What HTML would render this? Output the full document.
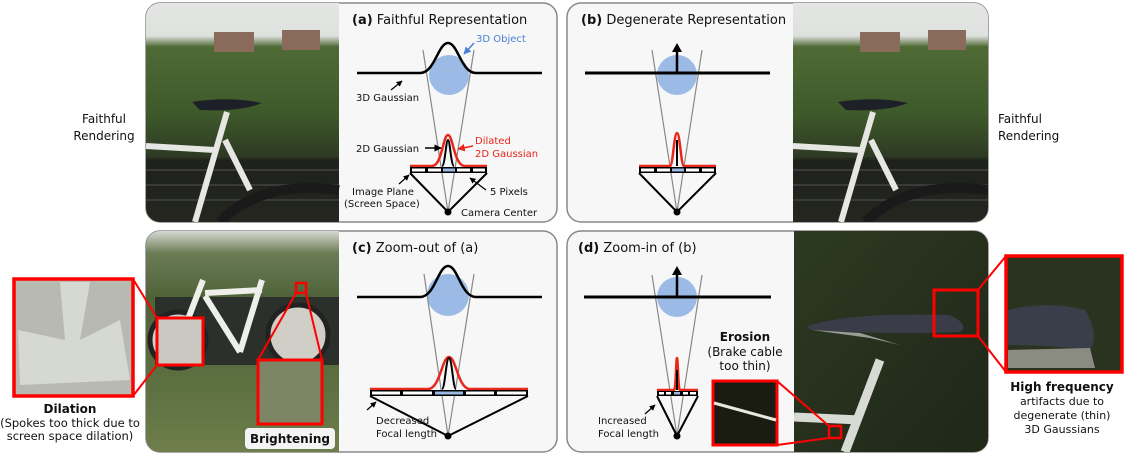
<!DOCTYPE html>
<html><head><meta charset="utf-8"><style>
html,body{margin:0;padding:0;background:#fff;width:1128px;height:456px;overflow:hidden}
svg{display:block;font-family:"DejaVu Sans","Liberation Sans",sans-serif}
</style></head><body>
<svg width="1128" height="456" viewBox="0 0 1128 456" xmlns="http://www.w3.org/2000/svg">
<defs>
<linearGradient id="tree" x1="0" y1="0" x2="0" y2="1">
<stop offset="0" stop-color="#e4e6e4"/><stop offset="0.15" stop-color="#dfe1de"/><stop offset="0.2" stop-color="#4f6a35"/><stop offset="0.5" stop-color="#3e5a2a"/><stop offset="0.7" stop-color="#2e3a24"/><stop offset="0.72" stop-color="#1e211c"/><stop offset="1" stop-color="#24261f"/>
</linearGradient>
<linearGradient id="bl" x1="0" y1="0" x2="0" y2="1">
<stop offset="0" stop-color="#d6d9d2"/><stop offset="0.1" stop-color="#6b7c55"/><stop offset="0.3" stop-color="#4f6339"/><stop offset="0.7" stop-color="#5d7040"/><stop offset="1" stop-color="#6e7e4c"/>
</linearGradient>
<linearGradient id="br" x1="0" y1="0" x2="1" y2="1">
<stop offset="0" stop-color="#2d3a22"/><stop offset="0.5" stop-color="#26301d"/><stop offset="1" stop-color="#1f2718"/>
</linearGradient>
<marker id="ah" viewBox="0 0 10 10" refX="9" refY="5" markerWidth="5" markerHeight="5" orient="auto"><path d="M0 0 L10 5 L0 10Z" fill="#000"/></marker>
<marker id="ahb" viewBox="0 0 10 10" refX="9" refY="5" markerWidth="5" markerHeight="5" orient="auto"><path d="M0 0 L10 5 L0 10Z" fill="#4a7fd4"/></marker>
<marker id="ahr" viewBox="0 0 10 10" refX="9" refY="5" markerWidth="5" markerHeight="5" orient="auto"><path d="M0 0 L10 5 L0 10Z" fill="#e8261a"/></marker>
<clipPath id="c1"><rect x="146" y="3" width="411" height="219" rx="14"/></clipPath>
<clipPath id="c2"><rect x="567" y="3" width="421" height="219" rx="14"/></clipPath>
<clipPath id="c3"><rect x="146" y="231" width="411" height="221" rx="14"/></clipPath>
<clipPath id="c4"><rect x="567" y="231" width="421" height="221" rx="14"/></clipPath>
</defs>

<rect x="146" y="3" width="411" height="219" rx="14" fill="#f7f7f7" stroke="#888" stroke-width="1.5"/>
<rect x="567" y="3" width="421" height="219" rx="14" fill="#f7f7f7" stroke="#888" stroke-width="1.5"/>
<rect x="146" y="231" width="411" height="221" rx="14" fill="#f7f7f7" stroke="#888" stroke-width="1.5"/>
<rect x="567" y="231" width="421" height="221" rx="14" fill="#f7f7f7" stroke="#888" stroke-width="1.5"/>

<g clip-path="url(#c1)">
<rect x="146" y="3" width="193" height="219" fill="url(#tree)"/>
<rect x="214" y="32" width="40" height="20" fill="#8a6a5a"/><rect x="282" y="30" width="38" height="20" fill="#8a6a5a"/>
<g stroke="#3a3a3a" stroke-width="2"><line x1="146" y1="170" x2="339" y2="170"/><line x1="146" y1="185" x2="339" y2="185"/><line x1="146" y1="200" x2="339" y2="200"/></g>
<path d="M192 102 Q230 96 262 103 Q240 112 200 110Z" fill="#1e2028"/>
<g stroke="#e6e6e2" stroke-width="6" fill="none"><line x1="146" y1="146" x2="215" y2="150"/><line x1="227" y1="112" x2="195" y2="222"/><line x1="225" y1="140" x2="250" y2="190"/></g>
<path d="M220 222 Q260 180 339 190" stroke="#1a1a1a" stroke-width="10" fill="none"/>
</g>
<g clip-path="url(#c2)">
<rect x="793" y="3" width="195" height="219" fill="url(#tree)"/>
<rect x="860" y="32" width="40" height="20" fill="#8a6a5a"/><rect x="928" y="30" width="38" height="20" fill="#8a6a5a"/>
<g stroke="#3a3a3a" stroke-width="2"><line x1="793" y1="170" x2="988" y2="170"/><line x1="793" y1="185" x2="988" y2="185"/><line x1="793" y1="200" x2="988" y2="200"/></g>
<path d="M838 102 Q876 96 908 103 Q886 112 846 110Z" fill="#1e2028"/>
<g stroke="#e6e6e2" stroke-width="6" fill="none"><line x1="793" y1="146" x2="861" y2="150"/><line x1="873" y1="112" x2="841" y2="222"/><line x1="871" y1="140" x2="896" y2="190"/></g>
<path d="M866 222 Q906 180 988 190" stroke="#1a1a1a" stroke-width="10" fill="none"/>
</g>
<g clip-path="url(#c3)">
<rect x="146" y="231" width="193" height="221" fill="url(#bl)"/>
<rect x="155" y="297" width="184" height="68" fill="#2c302a"/>
<circle cx="178" cy="340" r="28" fill="#cfcfc8" stroke="#222" stroke-width="5"/><circle cx="298" cy="335" r="30" fill="#cfcfc8" stroke="#222" stroke-width="5"/>
<g stroke="#eeeeea" stroke-width="6" fill="none"><line x1="205" y1="293" x2="262" y2="290"/><line x1="205" y1="296" x2="240" y2="352"/><line x1="262" y1="280" x2="240" y2="352"/><line x1="203" y1="280" x2="180" y2="340"/></g>
</g>
<g clip-path="url(#c4)">
<rect x="794" y="231" width="194" height="221" fill="url(#br)"/>
<path d="M808 326 Q850 312 950 315 Q970 325 960 332 Q900 335 810 330Z" fill="#3a3c48"/>
<path d="M812 330 L860 333 L900 345 L870 338Z" fill="#9a9c96"/>
<g stroke="#d8dad4" stroke-width="9" fill="none"><line x1="880" y1="360" x2="845" y2="452"/><line x1="794" y1="417" x2="860" y2="420"/></g>
</g>

<g font-size="13" fill="#111">
<text x="352" y="24"><tspan font-weight="bold">(a)</tspan> Faithful Representation</text>
<circle cx="449" cy="75" r="20" fill="#9bbbe6"/>
<line x1="448" y1="212" x2="423" y2="50" stroke="#888" stroke-width="1.2"/><line x1="448" y1="212" x2="474" y2="50" stroke="#888" stroke-width="1.2"/>
<path d="M357 73 L420 73 C435 73 438 43 448 43 C458 43 461 73 476 73 L542 73" stroke="#000" stroke-width="2.5" fill="none"/>
<text x="476" y="42" font-size="10" fill="#4a7fd4">3D Object</text>
<line x1="474" y1="43" x2="464" y2="54" stroke="#4a7fd4" stroke-width="1.5" marker-end="url(#ahb)"/>
<text x="356" y="101" font-size="10">3D Gaussian</text>
<line x1="391" y1="90" x2="402" y2="81" stroke="#000" stroke-width="1.2" marker-end="url(#ah)"/>
<path d="M410 166 L432 166 C442 166 443 135 448 135 C453 135 454 166 465 166 L487 166" stroke="#e8261a" stroke-width="2.5" fill="none"/>
<path d="M442 166 C445 166 446 140 448 140 C450 140 451 166 454 166" stroke="#000" stroke-width="2" fill="none"/>
<rect x="410" y="167" width="77" height="6" fill="#000"/>
<g fill="#fff"><rect x="412" y="168.5" width="13" height="3"/><rect x="428" y="168.5" width="13" height="3"/><rect x="457" y="168.5" width="13" height="3"/><rect x="473" y="168.5" width="12" height="3"/></g><rect x="443" y="168.5" width="12" height="3" fill="#9bbbe6"/>
<path d="M410 173 L448 212 L487 173" stroke="#000" stroke-width="2" fill="none"/>
<circle cx="448" cy="212" r="3.5" fill="#000"/>
<text x="356" y="152" font-size="10">2D Gaussian</text><line x1="425" y1="148" x2="441" y2="148" stroke="#000" stroke-width="1.5" marker-end="url(#ah)"/>
<text x="475" y="144" font-size="10" fill="#e8261a">Dilated</text><text x="475" y="157" font-size="10" fill="#e8261a">2D Gaussian</text>
<line x1="473" y1="146" x2="458" y2="149" stroke="#e8261a" stroke-width="1.5" marker-end="url(#ahr)"/>
<text x="352" y="195" font-size="10">Image Plane</text><text x="344" y="207" font-size="10">(Screen Space)</text>
<line x1="399" y1="184" x2="409" y2="175" stroke="#000" stroke-width="1.2" marker-end="url(#ah)"/>
<text x="490" y="195" font-size="10">5 Pixels</text><line x1="486" y1="190" x2="470" y2="178" stroke="#000" stroke-width="1.2" marker-end="url(#ah)"/>
<text x="461" y="216" font-size="10">Camera Center</text>

<text x="581" y="24"><tspan font-weight="bold">(b)</tspan> Degenerate Representation</text>
<circle cx="677" cy="75" r="20" fill="#9bbbe6"/>
<line x1="677" y1="212" x2="652" y2="50" stroke="#888" stroke-width="1.2"/><line x1="677" y1="212" x2="702" y2="50" stroke="#888" stroke-width="1.2"/>
<line x1="585" y1="73" x2="770" y2="73" stroke="#000" stroke-width="3"/>
<line x1="677" y1="73" x2="677" y2="50" stroke="#000" stroke-width="2.5"/><path d="M672 52 L677 43 L682 52Z" fill="#000"/>
<path d="M639 166 L670 166 C673 166 674 133 677 133 C680 133 681 166 684 166 L716 166" stroke="#e8261a" stroke-width="2.5" fill="none"/>
<line x1="677" y1="166" x2="677" y2="140" stroke="#000" stroke-width="2"/>
<rect x="639" y="167" width="77" height="6" fill="#000"/>
<g fill="#fff"><rect x="641" y="168.5" width="13" height="3"/><rect x="657" y="168.5" width="13" height="3"/><rect x="686" y="168.5" width="13" height="3"/><rect x="702" y="168.5" width="12" height="3"/></g><rect x="672" y="168.5" width="12" height="3" fill="#9bbbe6"/>
<path d="M639 173 L677 212 L716 173" stroke="#000" stroke-width="2" fill="none"/>
<circle cx="677" cy="212" r="3.5" fill="#000"/>

<text x="352" y="252"><tspan font-weight="bold">(c)</tspan> Zoom-out of (a)</text>
<circle cx="448" cy="295" r="21" fill="#9bbbe6"/>
<line x1="448" y1="436" x2="424" y2="274" stroke="#888" stroke-width="1.2"/><line x1="448" y1="436" x2="474" y2="274" stroke="#888" stroke-width="1.2"/>
<path d="M357 297 L420 297 C435 297 438 266 448 266 C458 266 461 297 476 297 L542 297" stroke="#000" stroke-width="2.5" fill="none"/>
<path d="M370 389 L428 389 C440 389 442 357 449 357 C456 357 458 389 470 389 L528 389" stroke="#e8261a" stroke-width="2.5" fill="none"/>
<path d="M442 389 C445 389 446 358 449 358 C452 358 453 389 456 389" stroke="#000" stroke-width="2" fill="none"/>
<rect x="370" y="390" width="158" height="6" fill="#000"/>
<g fill="#fff"><rect x="372" y="391.5" width="28" height="3"/><rect x="403" y="391.5" width="29" height="3"/><rect x="466" y="391.5" width="28" height="3"/><rect x="497" y="391.5" width="29" height="3"/></g><rect x="435" y="391.5" width="28" height="3" fill="#9bbbe6"/>
<path d="M370 396 L448 436 L528 396" stroke="#000" stroke-width="2" fill="none"/>
<circle cx="448" cy="436" r="3.5" fill="#000"/>
<text x="376" y="424" font-size="10">Decreased</text><text x="376" y="437" font-size="10">Focal length</text>
<line x1="367" y1="410" x2="376" y2="402" stroke="#000" stroke-width="1.2" marker-end="url(#ah)"/>

<text x="578" y="252"><tspan font-weight="bold">(d)</tspan> Zoom-in of (b)</text>
<circle cx="677" cy="297" r="20" fill="#9bbbe6"/>
<line x1="677" y1="436" x2="652" y2="275" stroke="#888" stroke-width="1.2"/><line x1="677" y1="436" x2="702" y2="275" stroke="#888" stroke-width="1.2"/>
<line x1="584" y1="297" x2="771" y2="297" stroke="#000" stroke-width="3"/>
<line x1="677" y1="297" x2="677" y2="273" stroke="#000" stroke-width="2.5"/><path d="M672 275 L677 266 L682 275Z" fill="#000"/>
<path d="M657 390 L674 390 C676 390 676 358 677 358 C678 358 678 390 680 390 L698 390" stroke="#e8261a" stroke-width="2.5" fill="none"/>
<line x1="677" y1="390" x2="677" y2="370" stroke="#000" stroke-width="2"/>
<rect x="657" y="391" width="41" height="5" fill="#000"/>
<g fill="#fff"><rect x="659" y="392" width="5" height="2.5"/><rect x="666" y="392" width="5" height="2.5"/><rect x="683" y="392" width="5" height="2.5"/><rect x="690" y="392" width="6" height="2.5"/></g><rect x="674" y="392" width="6" height="2.5" fill="#9bbbe6"/>
<path d="M657 396 L677 436 L698 396" stroke="#000" stroke-width="2" fill="none"/>
<circle cx="677" cy="436" r="3.5" fill="#000"/>
<text x="598" y="424" font-size="10">Increased</text><text x="598" y="437" font-size="10">Focal length</text>
<line x1="645" y1="414" x2="655" y2="405" stroke="#000" stroke-width="1.2" marker-end="url(#ah)"/>
<text x="745" y="341" font-size="12" font-weight="bold" text-anchor="middle">Erosion</text>
<text x="745" y="356" font-size="12" text-anchor="middle">(Brake cable</text>
<text x="745" y="370" font-size="12" text-anchor="middle">too thin)</text>
<rect x="713" y="381" width="64" height="64" fill="#1a1c12" stroke="#f00" stroke-width="3"/>
<path d="M714 403 L776 420" stroke="#e8e8e0" stroke-width="3"/>
<line x1="777" y1="381" x2="829" y2="426" stroke="#f00" stroke-width="2"/><line x1="777" y1="445" x2="829" y2="438" stroke="#f00" stroke-width="2"/>
<rect x="829" y="426" width="12" height="12" fill="none" stroke="#f00" stroke-width="2.5"/>

<text x="104" y="123" text-anchor="middle" font-size="12">Faithful</text><text x="104" y="140" text-anchor="middle" font-size="12">Rendering</text>
<text x="998" y="123" font-size="12">Faithful</text><text x="998" y="140" font-size="12">Rendering</text>

<rect x="14" y="279" width="119" height="117" fill="#b8bab2" stroke="#f00" stroke-width="3.5"/>
<path d="M60 282 L90 282 L80 340 L120 320 L130 380 L20 385 L18 330 L65 340Z" fill="#d6d8d2"/>
<rect x="157" y="318" width="46" height="47" fill="#c9c9c2" stroke="#f00" stroke-width="3"/>
<line x1="133" y1="279" x2="157" y2="318" stroke="#f00" stroke-width="2"/><line x1="133" y1="396" x2="157" y2="365" stroke="#f00" stroke-width="2"/>
<text x="70" y="413" font-weight="bold" text-anchor="middle" font-size="12">Dilation</text>
<text x="70" y="427" text-anchor="middle" font-size="11.5">(Spokes too thick due to</text>
<text x="70" y="440" text-anchor="middle" font-size="11.5">screen space dilation)</text>

<rect x="296" y="283" width="10" height="10" fill="none" stroke="#f00" stroke-width="2.5"/>
<line x1="296" y1="293" x2="258" y2="360" stroke="#f00" stroke-width="2"/><line x1="306" y1="293" x2="322" y2="360" stroke="#f00" stroke-width="2"/>
<rect x="258" y="360" width="64" height="64" fill="#7c8566" stroke="#f00" stroke-width="3"/>
<rect x="245" y="428" width="90" height="21" rx="4" fill="#f4f4f4"/>
<text x="290" y="443" text-anchor="middle" font-weight="bold" font-size="12">Brightening</text>

<rect x="934" y="290" width="44" height="46" fill="none" stroke="#f00" stroke-width="3"/>
<line x1="978" y1="290" x2="1006" y2="256" stroke="#f00" stroke-width="2"/><line x1="978" y1="336" x2="1006" y2="372" stroke="#f00" stroke-width="2"/>
<rect x="1006" y="256" width="116" height="116" fill="#2a3320" stroke="#f00" stroke-width="3.5"/>
<path d="M1008 310 Q1050 300 1085 310 Q1100 335 1090 350 Q1050 345 1008 345Z" fill="#3a3e4a"/>
<path d="M1008 350 L1090 348 L1095 368 L1008 368Z" fill="#8a8c82"/>
<text x="1062" y="391" text-anchor="middle" font-weight="bold" font-size="12">High frequency</text>
<text x="1062" y="405" text-anchor="middle" font-size="11">artifacts due to</text>
<text x="1062" y="419" text-anchor="middle" font-size="11">degenerate (thin)</text>
<text x="1062" y="433" text-anchor="middle" font-size="11">3D Gaussians</text>
</g>
</svg>
</body></html>
